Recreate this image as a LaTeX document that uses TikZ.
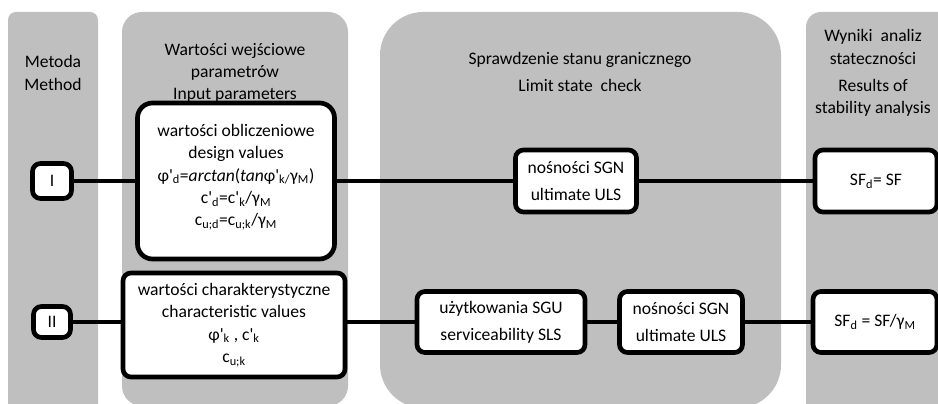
\documentclass[tikz,border=0pt]{standalone}
\usepackage{fontspec}
\setmainfont{Carlito}
\newcommand{\pr}{\textquotesingle}
\begin{document}
\begin{tikzpicture}[x=0.03cm,y=-0.03cm,
  every node/.style={font=\fontsize{15}{19}\selectfont},
  panel/.style={fill=black!25},
  box/.style={draw,line width=4pt,fill=white,rounded corners=0.24cm,align=center,inner sep=1pt},
  link/.style={line width=3.2pt},
  head/.style={align=center}]
\useasboundingbox (0,0) rectangle (938,404);
\clip (0,0) rectangle (938,404);
% columns
\fill[panel,rounded corners=0.24cm] (8,12) rectangle (98,440);
\fill[panel,rounded corners=0.6cm] (122,12) rectangle (348,406);
\fill[panel,rounded corners=1.3cm] (380,12) rectangle (781,408);
\fill[panel,rounded corners=0.45cm] (806,12) rectangle (960,440);
% headers
\node[head] (hmet) at (53,73) {Metoda\\Method};
\node[head] (hinp) at (235,73) {Wartości wejściowe\\parametrów\\Input parameters};
\node[head] (hchk) at (580,72) {Sprawdzenie stanu granicznego\\[4pt]Limit state~ check};
\node[head] (hres) at (873,73) {Wyniki~ analiz\\stateczności\\[4pt]Results of\\stability analysis};
% method I
\node[box,minimum width=1.17cm,minimum height=1.05cm] (m1) at (52,181) {I};
\node[box,rounded corners=0.45cm,minimum width=5.91cm,minimum height=4.68cm] (design) at (236,181)
  {wartości obliczeniowe\\design values\\
   φ\pr\textsubscript{d}=\textit{arctan}(\textit{tan}φ\pr\textsubscript{k/}γ\textsubscript{M})\\
   c\pr\textsubscript{d}=c\pr\textsubscript{k}/γ\textsubscript{M}\\
   c\textsubscript{u;d}=c\textsubscript{u;k}/γ\textsubscript{M}\\[-9pt]};
\node[box,minimum width=3.63cm,minimum height=1.86cm] (uls1) at (576,181) {nośności SGN\\[4pt]ultimate ULS};
\node[box,minimum width=3.66cm,minimum height=1.86cm] (res1) at (876,181) {SF\textsubscript{d}= SF};
% method II
\node[box,minimum width=1.11cm,minimum height=0.93cm] (m2) at (52,322) {II};
\node[box,minimum width=6.66cm,minimum height=3.12cm] (charv) at (234,325)
  {wartości charakterystyczne\\characteristic values\\
   φ\pr\textsubscript{k} , c\pr\textsubscript{k}\\c\textsubscript{u;k}};
\node[box,minimum width=5.04cm,minimum height=1.83cm] (sls) at (501,322) {użytkowania SGU\\[4pt]serviceability SLS};
\node[box,minimum width=3.69cm,minimum height=1.83cm] (uls2) at (681,322) {nośności SGN\\[4pt]ultimate ULS};
\node[box,minimum width=3.72cm,minimum height=1.83cm] (res2) at (875,322) {SF\textsubscript{d} = SF/γ\textsubscript{M}};
% connectors
\draw[link] (m1) -- (design);
\draw[link] (design) -- (uls1);
\draw[link] (uls1) -- (res1);
\draw[link] (m2) -- (m2 -| charv.west);
\draw[link] (charv.east |- m2) -- (sls);
\draw[link] (sls) -- (uls2);
\draw[link] (uls2) -- (res2);
\end{tikzpicture}
\end{document}
